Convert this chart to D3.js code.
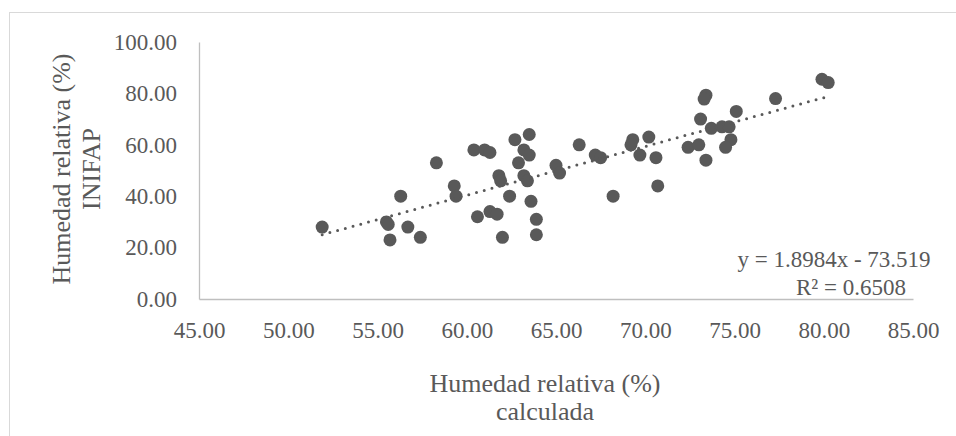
<!DOCTYPE html>
<html>
<head>
<meta charset="utf-8">
<script src="https://cdn.jsdelivr.net/npm/d3@7"></script>
<style>
  body { margin: 0; background: #fff; }
  svg text { font-family: "Liberation Serif", "Times New Roman", serif; fill: #595959; }
</style>
</head>
<body>
<svg id="chart" width="956" height="436"></svg>
<script>
// humedad relativa calculada (x) vs INIFAP (y)
const hrCalculada = [
  51.9, 55.5, 55.6, 55.7, 56.3, 56.7, 57.4, 58.3, 59.3, 59.4,
  60.4, 61.0, 61.3, 60.6, 61.3, 61.7, 62.0, 61.8, 61.9, 62.4,
  62.7, 63.5, 63.2, 63.5, 62.9, 63.2, 63.4, 63.6, 63.9, 63.9,
  65.0, 65.2, 66.3, 67.2, 67.5, 68.2, 69.3, 69.2, 70.2, 69.7,
  70.6, 70.7, 72.4, 73.0, 73.1, 73.4, 73.3, 73.4, 73.7, 74.3,
  74.7, 75.1, 74.8, 74.5, 77.3, 79.9, 80.25
];
const hrInifap = [
  28.0, 30.0, 29.0, 23.0, 40.0, 28.0, 24.0, 53.0, 44.0, 40.0,
  58.0, 58.0, 57.0, 32.0, 34.0, 33.0, 24.0, 48.0, 46.0, 40.0,
  62.0, 64.0, 58.0, 56.0, 53.0, 48.0, 46.0, 38.0, 31.0, 25.0,
  52.0, 49.0, 60.0, 56.0, 55.0, 40.0, 62.0, 60.0, 63.0, 56.0,
  55.0, 44.0, 59.0, 60.0, 70.0, 79.3, 77.8, 54.0, 66.4, 67.0,
  67.0, 73.0, 62.0, 59.0, 78.0, 85.5, 84.2
];
const xTicks = [45, 50, 55, 60, 65, 70, 75, 80, 85];
const yTicks = [0, 20, 40, 60, 80, 100];
const slope = 1.8984;
const intercept = -73.519;
const eqLabel = 'y = 1.8984x - 73.519';
const r2Label = 'R² = 0.6508';

const points = hrCalculada.map((x, i) => ({ x, y: hrInifap[i] }));

const svg = d3.select('#chart');
const margin = { top: 42, right: 43, bottom: 137, left: 199 };
const width = 956 - margin.left - margin.right;
const height = 436 - margin.top - margin.bottom;

// outer chart border
svg.append('rect')
  .attr('x', 9.5).attr('y', 12.5)
  .attr('width', 960).attr('height', 440)
  .attr('fill', 'none').attr('stroke', '#d9d9d9');

const g = svg.append('g').attr('transform', `translate(${margin.left},${margin.top})`);

const xScale = d3.scaleLinear().domain([45, 85]).range([0, width]);
const yScale = d3.scaleLinear().domain([0, 100]).range([height, 0]);
const fmt = d3.format('.2f');

const xAxis = g.append('g')
  .attr('transform', `translate(0,${height})`)
  .call(d3.axisBottom(xScale).tickValues(xTicks).tickFormat(fmt).tickSize(0).tickPadding(23));
const yAxis = g.append('g')
  .call(d3.axisLeft(yScale).tickValues(yTicks).tickFormat(fmt).tickSize(0).tickPadding(22));

[xAxis, yAxis].forEach(a => {
  a.select('.domain').attr('stroke', '#bfbfbf').attr('stroke-width', 1.3);
  a.selectAll('text').attr('font-size', 23).attr('fill', '#595959')
    .style('font-family', '"Liberation Serif", "Times New Roman", serif');
});

// points
g.selectAll('.dot')
  .data(points)
  .enter().append('circle')
  .attr('class', 'dot')
  .attr('cx', d => xScale(d.x))
  .attr('cy', d => yScale(d.y))
  .attr('r', 6.5)
  .attr('fill', '#595959');

// linear trendline
const xExt = d3.extent(hrCalculada);
g.append('line')
  .attr('x1', xScale(xExt[0])).attr('y1', yScale(slope * xExt[0] + intercept))
  .attr('x2', xScale(xExt[1])).attr('y2', yScale(slope * xExt[1] + intercept))
  .attr('stroke', '#595959')
  .attr('stroke-width', 3)
  .attr('stroke-linecap', 'round')
  .attr('stroke-dasharray', '0 8');

// equation label
svg.append('text').attr('x', 834).attr('y', 267).attr('text-anchor', 'middle')
  .attr('font-size', 23).text(eqLabel);
svg.append('text').attr('x', 851).attr('y', 295).attr('text-anchor', 'middle')
  .attr('font-size', 23).text(r2Label);

// axis titles
const xTitle = svg.append('text').attr('text-anchor', 'middle').attr('font-size', 26);
xTitle.append('tspan').attr('x', 545).attr('y', 392).text('Humedad relativa (%)');
xTitle.append('tspan').attr('x', 545).attr('y', 420).text('calculada');

const yTitle = svg.append('text').attr('text-anchor', 'middle').attr('font-size', 26)
  .attr('transform', 'translate(0,169) rotate(-90)');
yTitle.append('tspan').attr('x', 0).attr('y', 70).text('Humedad relativa (%)');
yTitle.append('tspan').attr('x', 0).attr('y', 100).text('INIFAP');
</script>
</body>
</html>
